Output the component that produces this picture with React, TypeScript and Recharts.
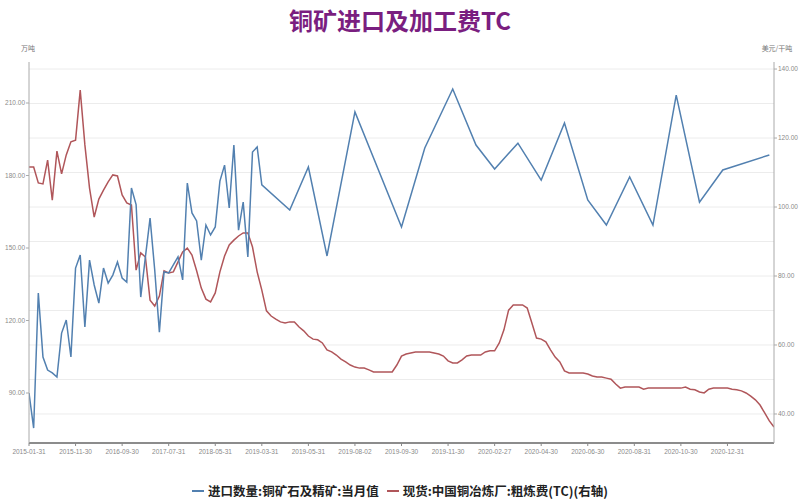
import React from 'react';
import { LineChart, Line, XAxis, YAxis, CartesianGrid } from 'recharts';

const TITLE = '铜矿进口及加工费TC';
const LEFT_UNIT = '万吨';
const RIGHT_UNIT = '美元/干吨';
const SERIES_IMPORT = '进口数量:铜矿石及精矿:当月值';
const SERIES_TC = '现货:中国铜冶炼厂:粗炼费(TC)(右轴)';

const X_TICK_LABELS = [
  '2015-01-31', '2015-11-30', '2016-09-30', '2017-07-31', '2018-05-31',
  '2019-03-31', '2019-05-31', '2019-08-02', '2019-09-30', '2019-11-30',
  '2020-02-27', '2020-04-30', '2020-06-30', '2020-08-31', '2020-10-30', '2020-12-31',
];

const LEFT_TICKS = [90, 120, 150, 180, 210];
const RIGHT_TICKS = [40, 60, 80, 100, 120, 140];
const GRID_VALUES = [40, 50, 60, 70, 80, 90, 100, 110, 120, 130, 140];

// 进口数量 (monthly, category 0..50)
const IMPORT_MONTHLY = [
  90.0, 75.5, 131.4, 104.9, 99.5, 98.3, 96.6, 114.8, 120.2, 104.9,
  141.7, 147.1, 117.3, 145.0, 134.7, 127.2, 141.7, 135.5, 138.8, 144.2,
  137.6, 135.9, 174.8, 168.0, 129.7, 146.3, 162.4, 140.9, 115.2, 140.1,
  139.7, 143.0, 146.3, 136.8, 176.9, 164.5, 161.2, 145.0, 159.5, 155.4,
  158.7, 177.7, 184.3, 166.6, 192.6, 157.4, 169.0, 146.3, 189.7, 191.8,
  176.1,
];
// later monthly points placed on the weekly category axis
const IMPORT_LATER_POS = [56, 60, 64, 70, 80, 85, 91, 96, 100, 105, 110, 115, 120, 124, 129, 134, 139, 144, 149, 159];
const IMPORT_LATER_VAL = [165.7, 183.5, 146.7, 206.3, 158.7, 191.4, 215.8, 192.6, 182.7, 193.4, 178.1, 201.7, 169.9, 159.5, 179.4, 159.5, 213.3, 169.0, 182.3, 188.5];

// TC (right axis), category 0..160
const TC = [
  111.6, 111.6, 107.0, 106.7, 113.6, 102.0, 116.2, 109.6, 115.1, 118.9,
  119.4, 133.9, 118.0, 105.5, 97.1, 102.3, 104.9, 107.3, 109.3, 109.0,
  103.5, 101.2, 100.6, 81.7, 86.7, 85.5, 73.0, 71.3, 74.2, 81.5,
  80.9, 81.2, 84.1, 87.0, 88.1, 86.1, 81.5, 76.5, 73.3, 72.5,
  75.1, 81.2, 85.8, 89.0, 90.4, 91.6, 92.5, 92.5, 88.4, 81.2,
  75.9, 69.9, 68.4, 67.5, 66.7, 66.4, 66.7, 66.7, 65.2, 64.1,
  62.6, 61.7, 61.5, 60.6, 58.6, 58.0, 57.1, 55.9, 55.1, 54.2,
  53.6, 53.3, 53.3, 52.8, 52.2, 52.2, 52.2, 52.2, 52.2, 54.2,
  56.8, 57.4, 57.7, 58.0, 58.0, 58.0, 58.0, 57.7, 57.4, 56.8,
  55.4, 54.8, 54.8, 55.7, 56.8, 57.1, 57.1, 57.1, 58.0, 58.3,
  58.3, 60.6, 64.4, 70.1, 71.6, 71.6, 71.6, 70.7, 66.4, 62.0,
  61.7, 60.9, 58.6, 56.5, 55.1, 52.5, 51.9, 51.9, 51.9, 51.9,
  51.6, 51.0, 50.7, 50.7, 50.4, 50.1, 48.7, 47.5, 47.8, 47.8,
  47.8, 47.8, 47.2, 47.5, 47.5, 47.5, 47.5, 47.5, 47.5, 47.5,
  47.5, 47.8, 47.2, 47.0, 46.4, 46.1, 47.2, 47.5, 47.5, 47.5,
  47.5, 47.2, 47.0, 46.7, 46.1, 45.2, 44.1, 42.6, 40.3, 38.0,
  36.2,
];

const BLUE = '#5280B0';
const RED = '#B0565A';

const data = TC.map((tc, i) => {
  let imp: number | null = null;
  if (i < IMPORT_MONTHLY.length) imp = IMPORT_MONTHLY[i];
  const k = IMPORT_LATER_POS.indexOf(i);
  if (k >= 0) imp = IMPORT_LATER_VAL[k];
  return { i, imp, tc };
});

const tickStyle = { fontSize: 6.5, fill: '#8a8a8a', fontFamily: 'Liberation Sans, Arial, sans-serif' };

export default function App() {
  return (
    <div style={{ position: 'absolute', left: 0, top: 0, width: 800, height: 500, background: '#fff', fontFamily: '"Noto Sans CJK SC", sans-serif' }}>
      <div style={{ position: 'absolute', left: 0, top: 5, width: 800, textAlign: 'center', fontSize: 24, fontWeight: 700, color: '#7A1E80', lineHeight: '30px' }}>
        {TITLE}
      </div>
      <div style={{ position: 'absolute', left: 18, top: 43, width: 20, textAlign: 'center', fontSize: 7, color: '#777' }}>{LEFT_UNIT}</div>
      <div style={{ position: 'absolute', left: 757, top: 43, width: 40, textAlign: 'center', fontSize: 7, color: '#777' }}>{RIGHT_UNIT}</div>
      <LineChart width={800} height={500} data={data} margin={{ top: 62, right: 0, bottom: 37, left: 0 }}>
        <CartesianGrid yAxisId="right" vertical={false} horizontalValues={GRID_VALUES} stroke="#ececec" />
        <XAxis
          dataKey="i"
          type="number"
          domain={[0, 160]}
          ticks={X_TICK_LABELS.map((_, k) => k * 10)}
          tickFormatter={(v: number) => X_TICK_LABELS[Math.round(v / 10)] ?? ''}
          tick={tickStyle}
          height={20}
          tickSize={3}
          tickMargin={3}
          axisLine={{ stroke: '#666', strokeWidth: 1.5 }}
          tickLine={{ stroke: '#888' }}
          allowDataOverflow
          interval={0}
        />
        <YAxis
          yAxisId="left"
          orientation="left"
          width={29}
          domain={[69.31, 226.97]}
          ticks={LEFT_TICKS}
          tickFormatter={(v: number) => v.toFixed(2)}
          tick={tickStyle}
          tickSize={3}
          tickMargin={1}
          axisLine={{ stroke: '#aaa' }}
          tickLine={{ stroke: '#aaa' }}
          allowDataOverflow
          interval={0}
        />
        <YAxis
          yAxisId="right"
          orientation="right"
          width={26}
          domain={[31.59, 142.04]}
          ticks={RIGHT_TICKS}
          tickFormatter={(v: number) => v.toFixed(2)}
          tick={tickStyle}
          tickSize={3}
          tickMargin={1}
          axisLine={{ stroke: '#aaa' }}
          tickLine={{ stroke: '#aaa' }}
          allowDataOverflow
          interval={0}
        />
        <Line yAxisId="right" type="linear" dataKey="tc" stroke={RED} strokeWidth={1.5} dot={false} isAnimationActive={false} />
        <Line yAxisId="left" type="linear" dataKey="imp" stroke={BLUE} strokeWidth={1.5} dot={false} connectNulls isAnimationActive={false} />
      </LineChart>
      <div style={{ position: 'absolute', left: 0, top: 481, width: 800, display: 'flex', justifyContent: 'center', alignItems: 'center', fontSize: 12.5, fontWeight: 700, color: '#222', whiteSpace: 'nowrap' }}>
        <span style={{ display: 'inline-block', width: 12, height: 2, background: BLUE, marginRight: 4 }} />
        <span style={{ marginRight: 8 }}>{SERIES_IMPORT}</span>
        <span style={{ display: 'inline-block', width: 12, height: 2, background: RED, marginRight: 4 }} />
        <span>{SERIES_TC}</span>
      </div>
    </div>
  );
}
